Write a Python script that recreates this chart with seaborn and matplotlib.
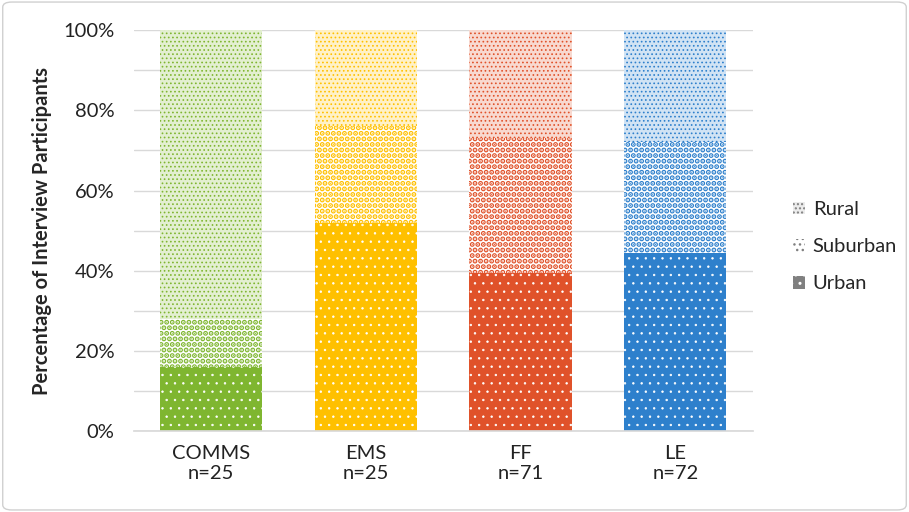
import matplotlib
matplotlib.use("Agg")
import matplotlib.pyplot as plt
import matplotlib.patches as mpatches
import seaborn as sns
import pandas as pd
import numpy as np

categories = ["COMMS", "EMS", "FF", "LE"]
counts_n = [25, 25, 71, 72]
urban = [16.0, 52.0, 39.4, 44.4]
suburban = [12.0, 24.0, 33.8, 27.8]
rural = [72.0, 24.0, 26.8, 27.8]
colors = ["#7fb630", "#ffc000", "#e0522a", "#2e80cc"]
tick_labels = [f"{c}\nn={n}" for c, n in zip(categories, counts_n)]

sns.set_theme(style="white")
plt.rcParams['font.family'] = ['Lato', 'DejaVu Sans']
plt.rcParams['hatch.linewidth'] = 1.0

fig = plt.figure(figsize=(9.09, 5.12), dpi=100)
ax = fig.add_axes([0.147, 0.158, 0.681, 0.783])

df = pd.DataFrame({"cat": categories,
                   "u": urban,
                   "s": np.add(urban, suburban),
                   "r": np.add(np.add(urban, suburban), rural)})

def light(c, f):
    rgb = np.array(matplotlib.colors.to_rgb(c))
    return tuple(1 - (1 - rgb) * f)

def hlw(p, w):
    if hasattr(p, "set_hatch_linewidth"):
        p.set_hatch_linewidth(w)

layers = [("r", "rural"), ("s", "suburban"), ("u", "urban")]
for col, kind in layers:
    n0 = len(ax.patches)
    sns.barplot(data=df, x="cat", y=col, hue="cat", palette=colors,
                legend=False, width=0.66, ax=ax, saturation=1, zorder=2)
    for p, c in zip(ax.patches[n0:], colors):
        if kind == "urban":
            p.set_facecolor(c)
            p.set_edgecolor("white")
            p.set_hatch("..")
            hlw(p, 0.5)
        elif kind == "suburban":
            p.set_facecolor("white")
            p.set_edgecolor(c)
            p.set_hatch("...")
            hlw(p, 2.6)
        else:
            p.set_facecolor(light(c, 0.22))
            p.set_edgecolor(c)
            p.set_hatch("....")
            hlw(p, 0.7)
        p.set_linewidth(0)

ax.set_ylim(0, 100)
ax.set_xlim(-0.5, 3.5)
ax.set_yticks(np.arange(0, 101, 20))
ax.set_yticklabels([f"{v}%" for v in range(0, 101, 20)], fontsize=14.5, color="#222222")
ax.set_yticks(np.arange(0, 101, 10), minor=True)
ax.yaxis.grid(True, which="both", color="#d9d9d9", linewidth=1, zorder=0)
ax.set_axisbelow(True)
ax.set_xticks(range(4))
ax.set_xticklabels(tick_labels, fontsize=14.5, color="#222222")
ax.tick_params(axis="x", length=0, pad=10)
ax.tick_params(axis="y", length=0, pad=14)
ax.set_xlabel("")
ax.set_ylabel("Percentage of Interview Participants", fontsize=14.5, fontweight="bold", labelpad=8)
for s in ["top", "right", "left"]:
    ax.spines[s].set_visible(False)
ax.spines["bottom"].set_color("#d9d9d9")

gray = "#808080"
handles = [
    mpatches.Patch(facecolor="#ececec", edgecolor=gray, hatch="....", linewidth=0, label="Rural"),
    mpatches.Patch(facecolor="white", edgecolor=gray, hatch="...", linewidth=0, label="Suburban"),
    mpatches.Patch(facecolor=gray, edgecolor="white", hatch="..", linewidth=0, label="Urban"),
]
fig.legend(handles=handles, loc="center left", bbox_to_anchor=(0.852, 0.518),
           frameon=False, fontsize=14.5, handlelength=0.6, handleheight=0.6,
           handletextpad=0.4, labelspacing=1.0)

border = mpatches.FancyBboxPatch((0.003, 0.004), 0.994, 0.992, boxstyle="round,pad=0,rounding_size=0.01",
                                 transform=fig.transFigure, fill=False, edgecolor="#d0d0d0", linewidth=1)
fig.patches.append(border)

fig.savefig("out.png", dpi=100)
